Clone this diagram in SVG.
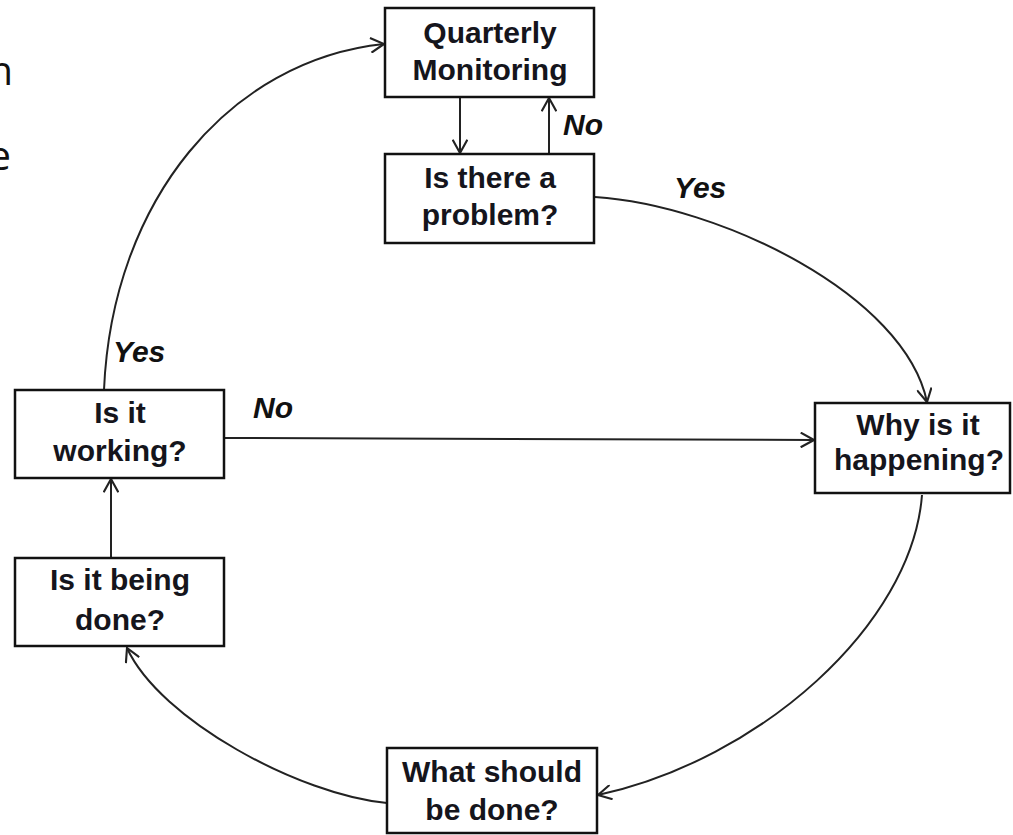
<svg xmlns="http://www.w3.org/2000/svg" width="1013" height="835" viewBox="0 0 1013 835">
<style>
.box{fill:#fff;stroke:#111;stroke-width:2.5}
.t{font-family:"Liberation Sans",Arial,sans-serif;font-weight:bold;font-size:30px;fill:#15151c;text-anchor:middle}
.lbl{font-family:"Liberation Sans",Arial,sans-serif;font-weight:bold;font-style:italic;font-size:30px;fill:#111}
.c{fill:none;stroke:#222;stroke-width:2;marker-end:url(#ah)}
.frag{font-family:"Open Sans",sans-serif;font-size:40px;fill:#111;text-anchor:end}
</style>
<defs>
<marker id="ah" markerUnits="userSpaceOnUse" markerWidth="16" markerHeight="16" refX="11" refY="6" orient="auto" viewBox="0 0 12 12">
<path d="M1,0.5 L11,6 L1,11.5" fill="none" stroke="#222" stroke-width="1.6"/>
</marker>
</defs>
<rect width="1013" height="835" fill="#fff"/>
<text class="frag" x="13" y="85">n</text>
<text class="frag" x="11" y="170">e</text>
<g id="connectors">
<path class="c" d="M460,97 L460,153"/>
<path class="c" d="M549,154 L549,98"/>
<path class="c" d="M595,197 C720,205 905,295 927,402"/>
<path class="c" d="M224,438 L814,440"/>
<path class="c" d="M922,495 C912,625 760,760 598,795"/>
<path class="c" d="M387,803 C300,795 160,720 127,648"/>
<path class="c" d="M111,558 L111,479"/>
<path class="c" d="M104,390 C112,200 230,60 384,44"/>
<text class="lbl" x="563" y="135">No</text>
<text class="lbl" x="674" y="198">Yes</text>
<text class="lbl" x="113" y="362">Yes</text>
<text class="lbl" x="253" y="418">No</text>
</g>
<g id="quarterly">
<rect class="box" x="385" y="8" width="209" height="89"/>
<text class="t" x="490" y="43">Quarterly</text>
<text class="t" x="490" y="80">Monitoring</text>
</g>
<g id="problem">
<rect class="box" x="385" y="154" width="209" height="89"/>
<text class="t" x="490" y="188">Is there a</text>
<text class="t" x="490" y="225">problem?</text>
</g>
<g id="why">
<rect class="box" x="815" y="403" width="195" height="90"/>
<text class="t" x="918" y="435">Why is it</text>
<text class="t" x="919" y="470">happening?</text>
</g>
<g id="what">
<rect class="box" x="387" y="748" width="210" height="85"/>
<text class="t" x="492" y="782">What should</text>
<text class="t" x="492" y="820">be done?</text>
</g>
<g id="being">
<rect class="box" x="15" y="558" width="209" height="88"/>
<text class="t" x="120" y="590">Is it being</text>
<text class="t" x="120" y="630">done?</text>
</g>
<g id="working">
<rect class="box" x="15" y="390" width="209" height="88"/>
<text class="t" x="120" y="423">Is it</text>
<text class="t" x="120" y="461">working?</text>
</g>
</svg>
